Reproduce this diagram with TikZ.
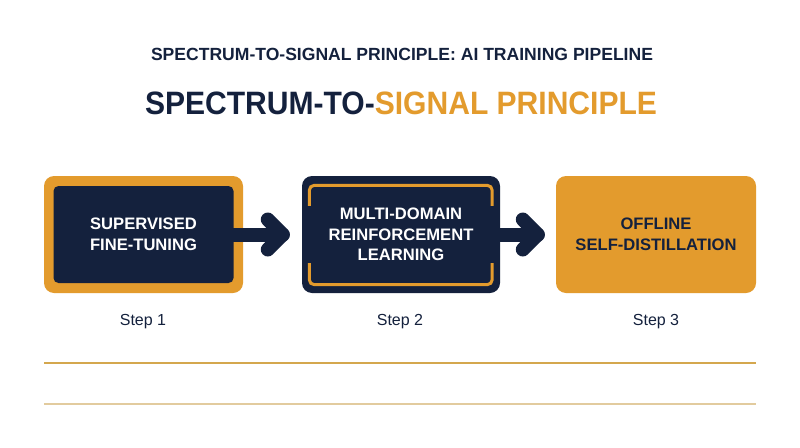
\documentclass[tikz,border=0pt]{standalone}
\usepackage{fontspec}
\setmainfont{Liberation Sans}
\usetikzlibrary{calc}
\definecolor{navy}{HTML}{14213D}
\definecolor{gold}{HTML}{E39B2D}
\definecolor{lineA}{HTML}{D4A74E}
\definecolor{lineB}{HTML}{E2CB9E}
\begin{document}
\begin{tikzpicture}[x=1pt,y=-1pt,
  boxtext/.style={font=\fontsize{16.6}{20.5}\selectfont\bfseries, align=center},
  roundbox/.style={rounded corners=10pt, inner sep=0pt, minimum width=#1, minimum height=117pt},
  arrowstyle/.style={draw=navy, line width=14pt, line cap=round, line join=round},
  steplabel/.style={font=\fontsize{16}{19}\selectfont, text=navy, anchor=base},
  bracket/.style={draw=gold, line width=3pt, rounded corners=5pt}
]
\useasboundingbox (0,0) rectangle (800,447);
\fill[white] (0,0) rectangle (800,447);

% titles
\node[text=navy, inner sep=0pt] (t1) at (402,54)
  {\resizebox{502pt}{12.3pt}{\bfseries SPECTRUM-TO-SIGNAL PRINCIPLE: AI TRAINING PIPELINE}};
\node[inner sep=0pt] (t2) at (401,103)
  {\resizebox{512pt}{22.6pt}{\bfseries\textcolor{navy}{SPECTRUM-TO-}\textcolor{gold}{SIGNAL PRINCIPLE}}};

% box 1
\node[roundbox=199pt, fill=gold] (b1) at (143.5,234.5) {};
\node[roundbox=180pt, minimum height=97pt, rounded corners=5pt, fill=navy, text=white, boxtext] (b1in) at (b1.center)
  {SUPERVISED\\FINE-TUNING};

% box 2
\node[roundbox=198pt, fill=navy, text=white, boxtext] (b2) at (401,234.5)
  {MULTI-DOMAIN\\REINFORCEMENT\\LEARNING};
\draw[bracket] ($(b2.north west)+(7.5,30)$) -- ($(b2.north west)+(7.5,9.5)$) -- ($(b2.north east)+(-8,9.5)$) -- ($(b2.north east)+(-8,30)$);
\draw[bracket] ($(b2.south west)+(7.5,-30)$) -- ($(b2.south west)+(7.5,-8.5)$) -- ($(b2.south east)+(-8,-8.5)$) -- ($(b2.south east)+(-8,-30)$);

% box 3
\node[roundbox=200pt, fill=gold, text=navy, boxtext] (b3) at (656,234.5)
  {OFFLINE\\SELF-DISTILLATION};

% arrows
\coordinate (h1) at ($(b2.west)+(-19,0)$);
\coordinate (h2) at ($(b3.west)+(-18,0)$);
\draw[arrowstyle] (b1in.east) -- (h1);
\draw[arrowstyle] ($(h1)+(-15,-15)$) -- (h1) -- ($(h1)+(-15,15)$);
\draw[arrowstyle] (b2.east) -- (h2);
\draw[arrowstyle] ($(h2)+(-15,-15)$) -- (h2) -- ($(h2)+(-15,15)$);

% step labels
\node[steplabel] (s1) at (143,325) {Step 1};
\node[steplabel] (s2) at (400,325) {Step 2};
\node[steplabel] (s3) at (656,325) {Step 3};

% lines
\coordinate (l1a) at (44,362.5);
\coordinate (l1b) at (756,362.5);
\coordinate (l2a) at (44,403.5);
\coordinate (l2b) at (756,403.5);
\draw[lineA, line width=2pt] (l1a) -- (l1b);
\draw[lineB, line width=2pt] (l2a) -- (l2b);
\end{tikzpicture}
\end{document}
